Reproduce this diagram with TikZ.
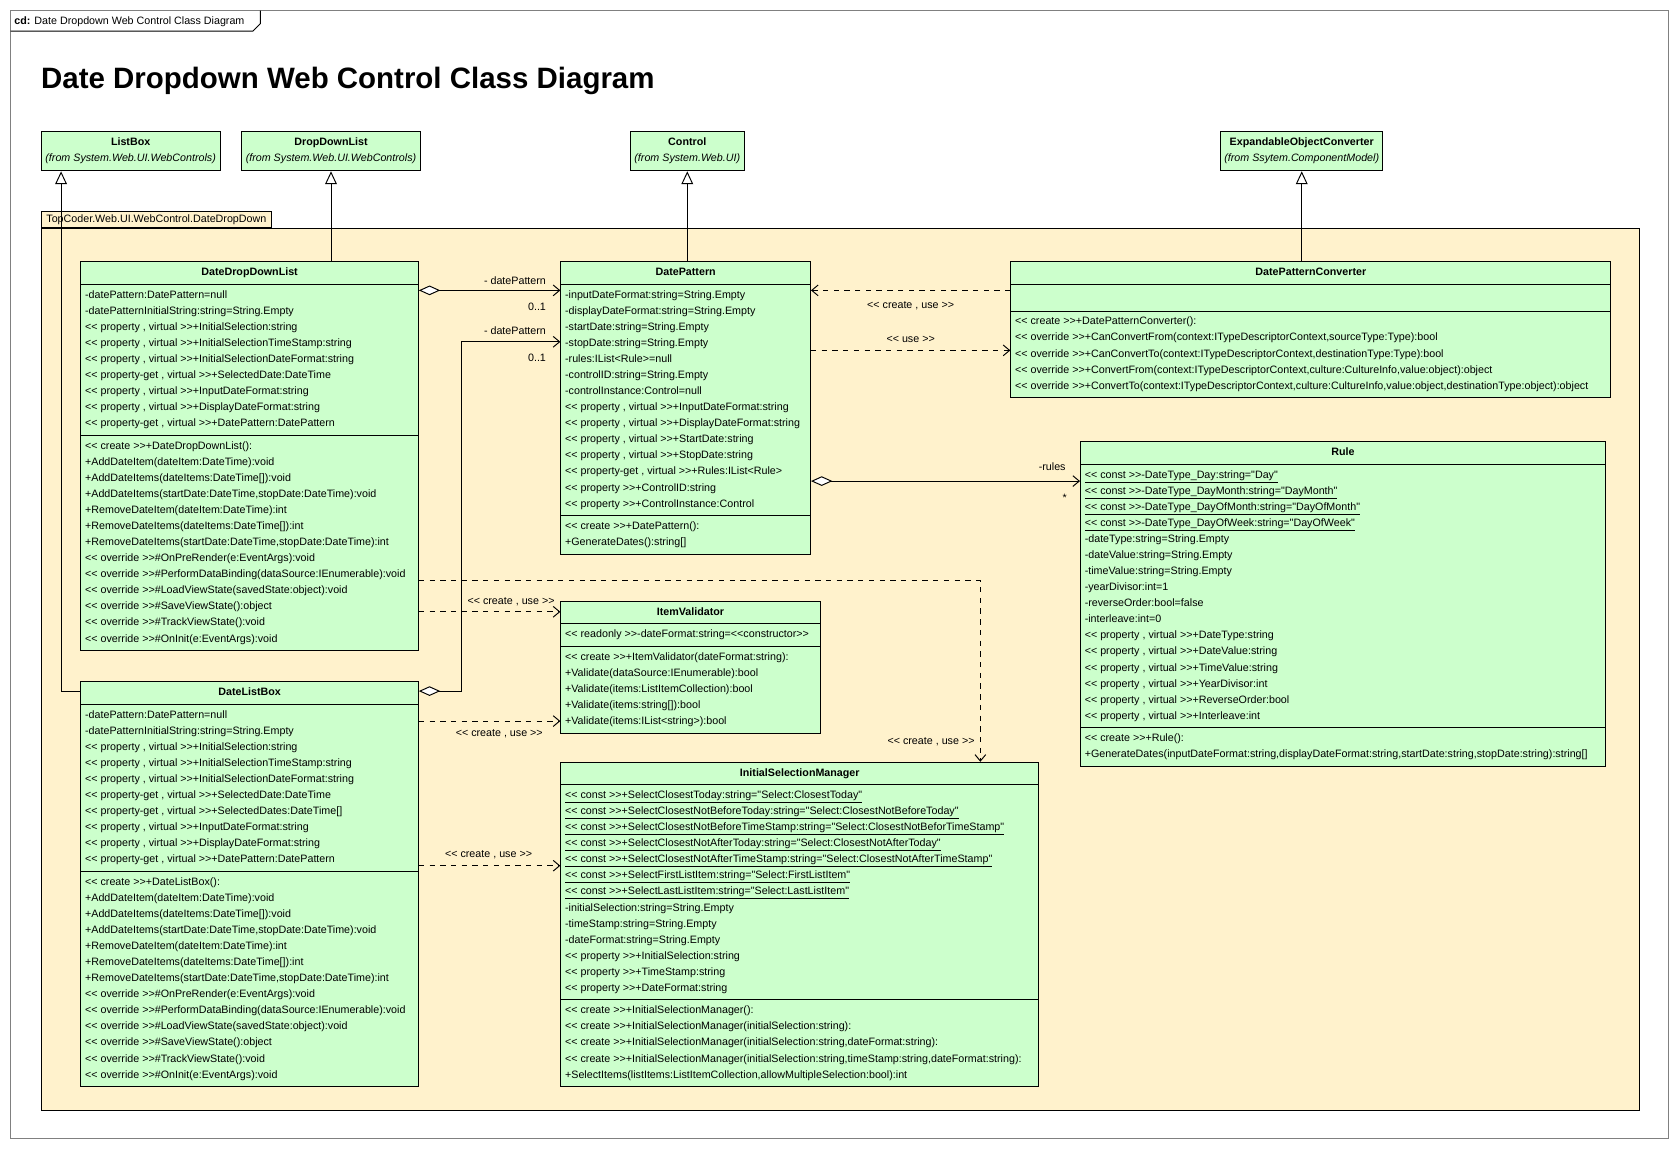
\documentclass[tikz,border=0pt]{standalone}
\usepackage{fontspec}
\setmainfont{Liberation Sans}[Ligatures=TeXOff]
\usetikzlibrary{shapes,arrows.meta}

\definecolor{classgreen}{RGB}{204,255,204}
\definecolor{pkgyellow}{RGB}{255,242,204}
\definecolor{framegray}{RGB}{128,128,128}
\newcommand{\ls}{\rule[-5pt]{0pt}{15pt}}

\begin{document}
\begin{tikzpicture}[x=1pt,y=-1pt]
        \tikzstyle{every path}=[line width=.9pt]
        \tikzstyle{every node}=[font=\fontsize{10}{15}\selectfont]

        \tikzstyle{cls}=[draw,fill=classgreen,anchor=north west,rectangle split,rectangle split parts=3,
                         rectangle split part align={center,left,left},align=left,inner xsep=4pt,inner ysep=2.5pt]
        \tikzstyle{ext}=[draw,fill=classgreen,anchor=north west,align=center,inner xsep=2pt,inner ysep=3.5pt]
        \tikzstyle{lbl}=[inner sep=0pt]
        \tikzstyle{gen}=[-{Triangle[fill=white,length=12pt,width=11pt]}]
        \tikzstyle{aggr}=[{Diamond[fill=white,length=20pt,width=9pt]}-{Straight Barb[length=6pt,width=10pt]}]
        \tikzstyle{dep}=[dash pattern=on 5pt off 5pt,-{Straight Barb[length=6pt,width=10pt]}]

        \path[fill=white] (0,0) rectangle (1568,1074);
        \useasboundingbox (0,0) rectangle (1568,1074);

        % frame
        \draw[framegray] (10,10) rectangle (1557,1063);
        \draw (10,29) -- (236,29) -- (243,22) -- (243,10);
        \node[anchor=base west,inner sep=0pt] (frametitle) at (13,23) {\textbf{cd:} Date Dropdown Web Control Class Diagram};
        \node[anchor=base west,inner sep=0pt,font=\fontsize{27.5}{33}\selectfont\bfseries] (title) at (38,83) {Date Dropdown Web Control Class Diagram};

        % package
        \node[draw,fill=pkgyellow,anchor=north west,minimum width=1492pt,minimum height=823pt,inner sep=0pt] (pkg) at (38,213) {};
        \node[draw,fill=pkgyellow,anchor=south west,minimum width=215pt,minimum height=15pt,inner sep=1pt] (pkgtab) at (pkg.north west) {TopCoder.Web.UI.WebControl.DateDropDown};

        % base classes
        \node[ext,minimum width=167pt] (listbox) at (38,122) {\ls\textbf{ListBox}\\\ls\textit{(from System.Web.UI.WebControls)}};
        \node[ext,minimum width=167pt] (dropdownlist) at (225,122) {\ls\textbf{DropDownList}\\\ls\textit{(from System.Web.UI.WebControls)}};
        \node[ext,minimum width=106pt] (control) at (588,122) {\ls\textbf{Control}\\\ls\textit{(from System.Web.UI)}};
        \node[ext,minimum width=151pt] (expconv) at (1139,122) {\ls\textbf{ExpandableObjectConverter}\\\ls\textit{(from Ssytem.ComponentModel)}};

        % classes
        \node[cls,minimum width=315pt] (ddlist) at (75,244) {\ls\textbf{DateDropDownList}
            \nodepart{two}\ls -datePattern:DatePattern=null\\
            \ls -datePatternInitialString:string=String.Empty\\
            \ls << property , virtual >>+InitialSelection:string\\
            \ls << property , virtual >>+InitialSelectionTimeStamp:string\\
            \ls << property , virtual >>+InitialSelectionDateFormat:string\\
            \ls << property-get , virtual >>+SelectedDate:DateTime\\
            \ls << property , virtual >>+InputDateFormat:string\\
            \ls << property , virtual >>+DisplayDateFormat:string\\
            \ls << property-get , virtual >>+DatePattern:DatePattern
            \nodepart{three}\ls << create >>+DateDropDownList():\\
            \ls +AddDateItem(dateItem:DateTime):void\\
            \ls +AddDateItems(dateItems:DateTime[]):void\\
            \ls +AddDateItems(startDate:DateTime,stopDate:DateTime):void\\
            \ls +RemoveDateItem(dateItem:DateTime):int\\
            \ls +RemoveDateItems(dateItems:DateTime[]):int\\
            \ls +RemoveDateItems(startDate:DateTime,stopDate:DateTime):int\\
            \ls << override >>\#OnPreRender(e:EventArgs):void\\
            \ls << override >>\#PerformDataBinding(dataSource:IEnumerable):void\\
            \ls << override >>\#LoadViewState(savedState:object):void\\
            \ls << override >>\#SaveViewState():object\\
            \ls << override >>\#TrackViewState():void\\
            \ls << override >>\#OnInit(e:EventArgs):void};

        \node[cls,minimum width=233pt] (datepattern) at (523,244) {\ls\textbf{DatePattern}
            \nodepart{two}\ls -inputDateFormat:string=String.Empty\\
            \ls -displayDateFormat:string=String.Empty\\
            \ls -startDate:string=String.Empty\\
            \ls -stopDate:string=String.Empty\\
            \ls -rules:IList<Rule>=null\\
            \ls -controlID:string=String.Empty\\
            \ls -controlInstance:Control=null\\
            \ls << property , virtual >>+InputDateFormat:string\\
            \ls << property , virtual >>+DisplayDateFormat:string\\
            \ls << property , virtual >>+StartDate:string\\
            \ls << property , virtual >>+StopDate:string\\
            \ls << property-get , virtual >>+Rules:IList<Rule>\\
            \ls << property >>+ControlID:string\\
            \ls << property >>+ControlInstance:Control
            \nodepart{three}\ls << create >>+DatePattern():\\
            \ls +GenerateDates():string[]};

        \node[cls,minimum width=560pt] (converter) at (943,244) {\ls\textbf{DatePatternConverter}
            \nodepart{two}\rule{0pt}{19pt}
            \nodepart{three}\ls << create >>+DatePatternConverter():\\
            \ls << override >>+CanConvertFrom(context:ITypeDescriptorContext,sourceType:Type):bool\\
            \ls << override >>+CanConvertTo(context:ITypeDescriptorContext,destinationType:Type):bool\\
            \ls << override >>+ConvertFrom(context:ITypeDescriptorContext,culture:CultureInfo,value:object):object\\
            \ls << override >>+ConvertTo(context:ITypeDescriptorContext,culture:CultureInfo,value:object,destinationType:object):object};

        \node[cls,minimum width=490pt] (rule) at (1008,412) {\ls\textbf{Rule}
            \nodepart{two}\ls\underline{<< const >>-DateType\_Day:string="Day"}\\
            \ls\underline{<< const >>-DateType\_DayMonth:string="DayMonth"}\\
            \ls\underline{<< const >>-DateType\_DayOfMonth:string="DayOfMonth"}\\
            \ls\underline{<< const >>-DateType\_DayOfWeek:string="DayOfWeek"}\\
            \ls -dateType:string=String.Empty\\
            \ls -dateValue:string=String.Empty\\
            \ls -timeValue:string=String.Empty\\
            \ls -yearDivisor:int=1\\
            \ls -reverseOrder:bool=false\\
            \ls -interleave:int=0\\
            \ls << property , virtual >>+DateType:string\\
            \ls << property , virtual >>+DateValue:string\\
            \ls << property , virtual >>+TimeValue:string\\
            \ls << property , virtual >>+YearDivisor:int\\
            \ls << property , virtual >>+ReverseOrder:bool\\
            \ls << property , virtual >>+Interleave:int
            \nodepart{three}\ls << create >>+Rule():\\
            \ls +GenerateDates(inputDateFormat:string,displayDateFormat:string,startDate:string,stopDate:string):string[]};

        \node[cls,minimum width=242pt] (validator) at (523,561) {\ls\textbf{ItemValidator}
            \nodepart{two}\ls << readonly >>-dateFormat:string=<<constructor>>
            \nodepart{three}\ls << create >>+ItemValidator(dateFormat:string):\\
            \ls +Validate(dataSource:IEnumerable):bool\\
            \ls +Validate(items:ListItemCollection):bool\\
            \ls +Validate(items:string[]):bool\\
            \ls +Validate(items:IList<string>):bool};

        \node[cls,minimum width=315pt] (datelistbox) at (75,636) {\ls\textbf{DateListBox}
            \nodepart{two}\ls -datePattern:DatePattern=null\\
            \ls -datePatternInitialString:string=String.Empty\\
            \ls << property , virtual >>+InitialSelection:string\\
            \ls << property , virtual >>+InitialSelectionTimeStamp:string\\
            \ls << property , virtual >>+InitialSelectionDateFormat:string\\
            \ls << property-get , virtual >>+SelectedDate:DateTime\\
            \ls << property-get , virtual >>+SelectedDates:DateTime[]\\
            \ls << property , virtual >>+InputDateFormat:string\\
            \ls << property , virtual >>+DisplayDateFormat:string\\
            \ls << property-get , virtual >>+DatePattern:DatePattern
            \nodepart{three}\ls << create >>+DateListBox():\\
            \ls +AddDateItem(dateItem:DateTime):void\\
            \ls +AddDateItems(dateItems:DateTime[]):void\\
            \ls +AddDateItems(startDate:DateTime,stopDate:DateTime):void\\
            \ls +RemoveDateItem(dateItem:DateTime):int\\
            \ls +RemoveDateItems(dateItems:DateTime[]):int\\
            \ls +RemoveDateItems(startDate:DateTime,stopDate:DateTime):int\\
            \ls << override >>\#OnPreRender(e:EventArgs):void\\
            \ls << override >>\#PerformDataBinding(dataSource:IEnumerable):void\\
            \ls << override >>\#LoadViewState(savedState:object):void\\
            \ls << override >>\#SaveViewState():object\\
            \ls << override >>\#TrackViewState():void\\
            \ls << override >>\#OnInit(e:EventArgs):void};

        \node[cls,minimum width=446pt] (selmanager) at (523,711) {\ls\textbf{InitialSelectionManager}
            \nodepart{two}\ls\underline{<< const >>+SelectClosestToday:string="Select:ClosestToday"}\\
            \ls\underline{<< const >>+SelectClosestNotBeforeToday:string="Select:ClosestNotBeforeToday"}\\
            \ls\underline{<< const >>+SelectClosestNotBeforeTimeStamp:string="Select:ClosestNotBeforTimeStamp"}\\
            \ls\underline{<< const >>+SelectClosestNotAfterToday:string="Select:ClosestNotAfterToday"}\\
            \ls\underline{<< const >>+SelectClosestNotAfterTimeStamp:string="Select:ClosestNotAfterTimeStamp"}\\
            \ls\underline{<< const >>+SelectFirstListItem:string="Select:FirstListItem"}\\
            \ls\underline{<< const >>+SelectLastListItem:string="Select:LastListItem"}\\
            \ls -initialSelection:string=String.Empty\\
            \ls -timeStamp:string=String.Empty\\
            \ls -dateFormat:string=String.Empty\\
            \ls << property >>+InitialSelection:string\\
            \ls << property >>+TimeStamp:string\\
            \ls << property >>+DateFormat:string
            \nodepart{three}\ls << create >>+InitialSelectionManager():\\
            \ls << create >>+InitialSelectionManager(initialSelection:string):\\
            \ls << create >>+InitialSelectionManager(initialSelection:string,dateFormat:string):\\
            \ls << create >>+InitialSelectionManager(initialSelection:string,timeStamp:string,dateFormat:string):\\
            \ls +SelectItems(listItems:ListItemCollection,allowMultipleSelection:bool):int};

        % generalizations
        \draw[gen] ([yshift=-9pt]datelistbox.north west) -| ([xshift=19pt]listbox.south west);  % DateListBox->ListBox
        \draw[gen] (dropdownlist.south |- ddlist.north) -- (dropdownlist.south);               % DateDropDownList->DropDownList
        \draw[gen] (control.south |- datepattern.north) -- (control.south);                    % DatePattern->Control
        \draw[gen] (expconv.south |- converter.north) -- (expconv.south);                      % DatePatternConverter->ExpandableObjectConverter

        % aggregations
        \draw[aggr] ([yshift=-27pt]ddlist.north east) -- ([yshift=-27pt]datepattern.north west)
            node[lbl,anchor=base east,xshift=-13pt,yshift=5.5pt] (roleddl) {- datePattern}
            node[lbl,anchor=base east,xshift=-13pt,yshift=-18.5pt] (multddl) {0..1};
        \draw[aggr] ([yshift=-9pt]datelistbox.north east) -- ++(40,0) |- ([yshift=-75pt]datepattern.north west)
            node[lbl,anchor=base east,xshift=-13pt,yshift=6.5pt] (roledlb) {- datePattern}
            node[lbl,anchor=base east,xshift=-13pt,yshift=-18.5pt] (multdlb) {0..1};
        \draw[aggr] ([yshift=-205pt]datepattern.north east) -- ([yshift=-37pt]rule.north west)
            node[lbl,anchor=base east,xshift=-13pt,yshift=9.5pt] (rolerules) {-rules}
            node[lbl,anchor=base east,xshift=-12pt,yshift=-19pt] (multrules) {*};

        % dependencies
        \draw[dep] ([yshift=-27pt]converter.north west) -- node[lbl,anchor=base,yshift=-16.5pt] (useconv) {<< create , use >>} ([yshift=-27pt]datepattern.north east);
        \draw[dep] ([yshift=-83pt]datepattern.north east) -- node[lbl,anchor=base,yshift=7.5pt] (usedp) {<< use >>} ([yshift=-83pt]converter.north west);
        \draw[dep] ([yshift=-327pt]ddlist.north east) -- ([yshift=-10pt]validator.north west)
            node[lbl,anchor=base east,xshift=-5pt,yshift=6.5pt] (useddliv) {<< create , use >>};
        \draw[dep] ([yshift=-37pt]datelistbox.north east) -- ([yshift=-112pt]validator.north west)
            node[lbl,anchor=base east,xshift=-16pt,yshift=-14.5pt] (usedlbiv) {<< create , use >>};
        \draw[dep] ([yshift=-298pt]ddlist.north east) -| ([xshift=392pt]selmanager.north west)
            node[lbl,anchor=base east,xshift=-5pt,yshift=16.5pt] (useddlism) {<< create , use >>};
        \draw[dep] ([yshift=-172pt]datelistbox.north east) -- ([yshift=-97pt]selmanager.north west)
            node[lbl,anchor=base east,xshift=-26pt,yshift=7.5pt] (usedlbism) {<< create , use >>};
\end{tikzpicture}
\end{document}
